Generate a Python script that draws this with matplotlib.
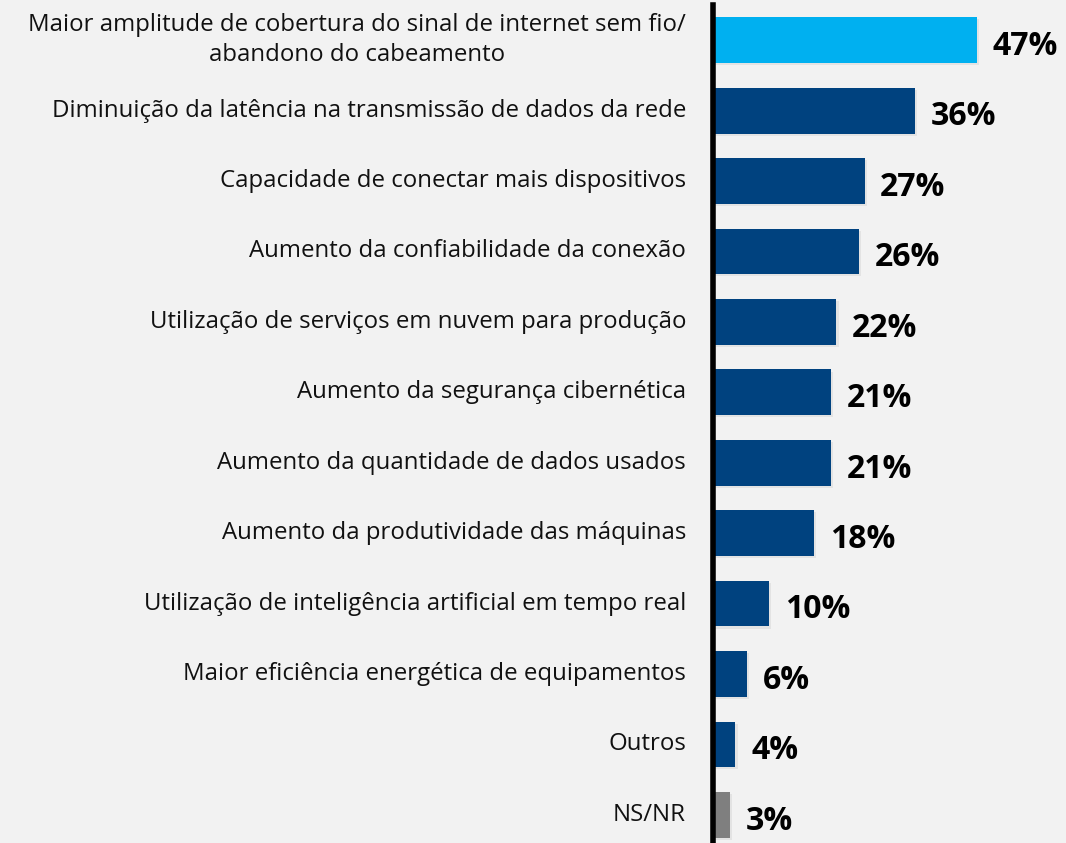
import matplotlib.pyplot as plt
import matplotlib.patheffects as pe

labels = [
    "Maior amplitude de cobertura do sinal de internet sem fio/\nabandono do cabeamento",
    "Diminuição da latência na transmissão de dados da rede",
    "Capacidade de conectar mais dispositivos",
    "Aumento da confiabilidade da conexão",
    "Utilização de serviços em nuvem para produção",
    "Aumento da segurança cibernética",
    "Aumento da quantidade de dados usados",
    "Aumento da produtividade das máquinas",
    "Utilização de inteligência artificial em tempo real",
    "Maior eficiência energética de equipamentos",
    "Outros",
    "NS/NR",
]
values = [47, 36, 27, 26, 22, 21, 21, 18, 10, 6, 4, 3]
colors = ["#00B0F0"] + ["#00427F"] * 10 + ["#7F7F7F"]

BG = "#F2F2F2"
fig = plt.figure(figsize=(10.66, 8.43), dpi=100, facecolor=BG)
ax = fig.add_axes([713 / 1066, 0, 348 / 1066, 838 / 843])
ax.set_facecolor(BG)

ypos = list(range(len(values)))
bars = ax.barh(ypos, values, height=0.65, color=colors, zorder=2)
for b in bars:
    b.set_path_effects([pe.SimplePatchShadow(offset=(1.5, -1.5), shadow_rgbFace="#000000", alpha=0.06),
                        pe.Normal()])

ax.set_xlim(0, 62)
ax.set_ylim(11.4, -0.5)

for y, v in zip(ypos, values):
    ax.text(v + 2.8, y + 0.09, f"{v}%", va="center", ha="left",
            fontsize=23, fontweight="bold", family="Open Sans", color="black")

for y, lab in zip(ypos, labels):
    ax.text(-4.8, y, lab, va="center", ha="right", multialignment="center",
            fontsize=17.3, family="Open Sans", color="#111111", linespacing=1.35)

for s in ["top", "right", "bottom"]:
    ax.spines[s].set_visible(False)
ax.spines["left"].set_linewidth(4)
ax.spines["left"].set_color("black")
ax.spines["left"].set_zorder(3)
ax.set_xticks([])
ax.set_yticks([])

fig.savefig("out.png", dpi=100, facecolor=BG)
